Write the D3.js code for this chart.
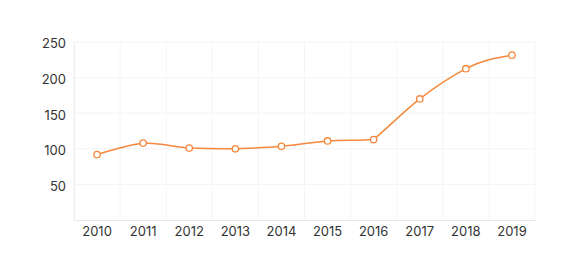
<!DOCTYPE html>
<html>
<head>
<meta charset="utf-8">
<script src="https://cdn.jsdelivr.net/npm/d3@7"></script>
<style>
  html, body { margin: 0; padding: 0; background: #fff; }
  svg { display: block; }
  text { font-family: "Inter", "Open Sans", sans-serif; font-size: 13px; fill: #333; }
</style>
</head>
<body>
<svg id="chart" width="584" height="272"></svg>
<script>
const years = ["2010","2011","2012","2013","2014","2015","2016","2017","2018","2019"];
const values = [92, 108, 101, 100, 103.5, 111, 113, 170, 212.5, 231.5];
const yTicks = [50, 100, 150, 200, 250];

const width = 584, height = 272;
const margin = { top: 42, right: 49, bottom: 52, left: 74 };
const svg = d3.select("#chart");
const iw = width - margin.left - margin.right;
const ih = height - margin.top - margin.bottom;
const g = svg.append("g").attr("transform", `translate(${margin.left},${margin.top})`);

const x = d3.scaleBand().domain(years).range([0, iw]);
const y = d3.scaleLinear().domain([0, 250]).range([ih, 0]);

// horizontal grid
g.append("g").selectAll("line").data(yTicks).join("line")
  .attr("x1", 0).attr("x2", iw)
  .attr("y1", d => y(d)).attr("y2", d => y(d))
  .attr("stroke", "#f3f3f3").attr("stroke-width", 1);

// vertical grid at band boundaries
const bounds = years.map(d => x(d)).concat([iw]);
g.append("g").selectAll("line").data(bounds).join("line")
  .attr("x1", d => d).attr("x2", d => d)
  .attr("y1", 0).attr("y2", ih)
  .attr("stroke", "#f5f5f5").attr("stroke-width", 1);

// axes
const xAxis = g.append("g").attr("transform", `translate(0,${ih})`)
  .call(d3.axisBottom(x).tickSize(0).tickPadding(7));
xAxis.select(".domain").attr("stroke", "#e8e8e8");
xAxis.selectAll("text").style("font-size", "13px").attr("fill", "#333");

const yAxis = g.append("g")
  .call(d3.axisLeft(y).tickValues(yTicks).tickSize(0).tickPadding(8));
yAxis.select(".domain").attr("stroke", "#eeeeee");
yAxis.selectAll("text").style("font-size", "13px").attr("fill", "#333").attr("dy", "0.45em");

// smoothed line: tangent weighted by vertical change, control arms clamped to segment range
const pts = values.map((v, i) => [x(years[i]) + x.bandwidth() / 2, y(v)]);
const n = pts.length;
const clamp = (v, a, b) => Math.max(Math.min(a, b), Math.min(Math.max(a, b), v));
const tang = pts.map((p, i) => {
  if (i === 0 || i === n - 1) return null;
  const h = pts[i + 1][0] - p[0];
  const d0 = p[1] - pts[i - 1][1], d1 = pts[i + 1][1] - p[1];
  const s = Math.abs(d0) + Math.abs(d1);
  return s === 0 ? 0 : (d0 * Math.abs(d0) + d1 * Math.abs(d1)) / (h * s);
});
// end tangent
{
  const h = pts[n - 1][0] - pts[n - 2][0];
  const sl = (pts[n - 1][1] - pts[n - 2][1]) / h;
  tang[n - 1] = (3 * sl - tang[n - 2]) / 2;
  tang[0] = null;
}
const path = d3.path();
path.moveTo(pts[0][0], pts[0][1]);
for (let i = 1; i < n; i++) {
  const a = pts[i - 1], b = pts[i];
  const arm = (b[0] - a[0]) / 3;
  const c1 = tang[i - 1] === null ? [a[0], a[1]] : [a[0] + arm, clamp(a[1] + tang[i - 1] * arm, a[1], b[1])];
  const c2 = tang[i] === null ? [b[0], b[1]] : [b[0] - arm, clamp(b[1] - tang[i] * arm, a[1], b[1])];
  path.bezierCurveTo(c1[0], c1[1], c2[0], c2[1], b[0], b[1]);
}

const color = "#f5883c";
g.append("path").attr("d", path.toString()).attr("fill", "none")
  .attr("stroke", color).attr("stroke-width", 1.5);

g.append("g").selectAll("circle").data(values).join("circle")
  .attr("cx", (d, i) => x(years[i]) + x.bandwidth() / 2)
  .attr("cy", d => y(d))
  .attr("r", 3.2)
  .attr("fill", "#fff").attr("stroke", color).attr("stroke-width", 1.3);
</script>
</body>
</html>
